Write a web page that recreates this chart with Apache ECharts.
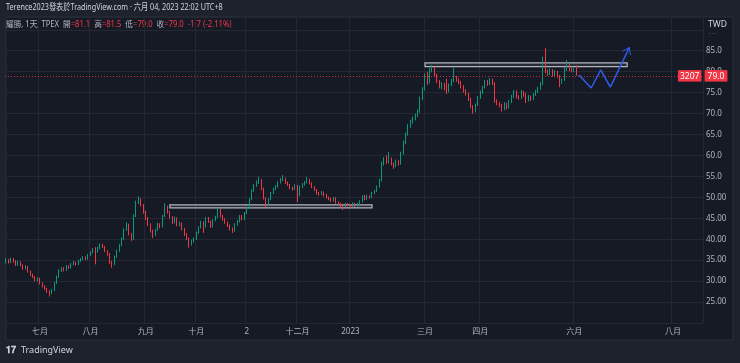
<!DOCTYPE html>
<html>
<head>
<meta charset="utf-8">
<script src="https://cdn.jsdelivr.net/npm/echarts@6/dist/echarts.min.js"></script>
<style>
html,body{margin:0;padding:0;background:#1e222d;}
#c{width:740px;height:363px;}
</style>
</head>
<body>
<div id="c"></div>
<script>
// ---- data ----
var opens = [34.6,35.0,34.6,35.2,34.8,34.0,34.5,33.8,33.0,33.4,32.2,31.5,31.0,30.2,30.6,29.5,28.8,28.2,27.5,27.2,
27.8,29.5,31.0,32.5,33.0,32.6,33.5,33.2,34.0,34.4,34.0,34.8,35.2,35.6,35.3,36.2,36.8,37.8,37.0,37.8,
38.6,38.2,37.2,36.5,34.5,34.0,35.8,37.2,38.5,40.0,42.2,43.5,41.2,40.0,45.5,48.8,49.5,48.2,46.5,45.0,
43.5,42.0,41.0,42.2,43.5,43.0,45.5,47.8,46.5,45.3,44.0,45.0,43.5,43.8,42.5,41.2,40.2,38.8,39.5,40.0,
41.5,42.8,44.0,43.0,45.0,44.2,43.0,44.5,45.2,47.0,45.5,44.8,44.0,43.2,42.5,42.0,43.5,44.2,45.5,44.8,
46.2,47.5,49.5,51.5,52.8,53.5,54.2,52.0,49.8,48.2,49.5,51.0,52.0,52.5,53.5,54.2,54.5,53.5,53.0,52.2,
52.0,52.8,50.5,52.5,53.0,53.5,54.2,53.4,52.5,51.8,51.0,50.8,51.2,50.5,50.0,49.6,49.2,49.8,48.8,48.5,
48.0,47.8,48.4,48.2,47.8,48.5,48.0,48.4,49.0,50.4,49.6,50.3,50.0,51.0,51.5,52.5,54.0,58.0,59.5,58.5,
59.2,58.0,57.5,58.6,58.0,60.5,63.0,65.0,67.0,68.0,68.8,69.5,70.5,73.5,75.8,79.5,77.5,80.2,81.0,79.2,
77.8,76.5,77.0,78.0,75.2,76.8,77.8,78.5,78.0,77.5,76.5,75.5,74.8,73.5,71.8,70.6,72.0,73.8,75.0,76.2,
77.5,77.0,78.0,77.2,73.0,72.5,72.0,71.0,72.3,71.5,72.8,74.0,75.2,74.0,73.8,75.0,74.5,73.2,74.0,73.5,
74.5,75.2,76.0,77.0,83.5,80.0,79.5,80.4,79.2,80.0,79.0,77.5,78.0,80.5,81.6,80.5,80.2,81.1];
var closes = [35.0,34.6,35.2,34.8,34.0,34.5,33.8,33.0,33.4,32.2,31.5,31.0,30.2,30.6,29.5,28.8,28.2,27.5,27.2,27.8,
29.5,31.0,32.5,33.0,32.6,33.5,33.2,34.0,34.4,34.0,34.8,35.2,35.6,35.3,36.2,36.8,37.5,37.0,37.8,38.6,
38.2,37.2,36.5,34.5,34.0,35.8,37.2,38.5,40.0,42.2,43.5,41.2,40.0,45.5,48.8,49.5,48.2,46.5,45.0,43.5,
42.0,41.0,42.2,43.5,43.0,45.5,47.8,46.5,45.3,44.0,45.0,43.5,43.8,42.5,41.2,40.2,38.8,39.5,40.0,41.5,
42.8,44.0,43.0,45.0,44.2,43.0,44.5,45.2,47.0,45.5,44.8,44.0,43.2,42.5,42.0,43.5,44.2,45.5,44.8,46.2,
47.5,49.5,51.5,52.8,53.5,54.2,52.0,49.8,48.2,49.5,51.0,52.0,52.5,53.5,54.2,54.5,53.5,53.0,52.2,52.0,
52.8,50.5,52.5,53.0,53.5,54.2,53.4,52.5,51.8,51.0,50.8,51.2,50.5,50.0,49.6,49.2,49.8,48.8,48.5,48.0,
47.8,48.4,48.2,47.8,48.5,48.0,48.4,49.0,50.2,49.6,50.3,50.0,51.0,51.5,52.5,54.0,58.0,59.0,58.5,59.2,
58.0,57.5,58.6,58.0,60.5,63.0,65.0,67.0,68.0,68.8,69.5,70.5,73.5,75.8,79.0,77.5,80.2,81.0,79.2,77.8,
76.5,77.0,76.0,75.2,76.8,77.8,78.5,78.0,77.5,76.5,75.5,74.8,73.5,71.8,70.6,72.0,73.8,75.0,76.2,77.5,
77.0,78.0,77.2,73.0,72.5,72.0,71.0,72.3,71.5,72.8,74.0,75.2,74.0,73.8,75.0,74.5,73.2,74.0,73.5,74.5,
75.2,76.0,77.0,83.0,80.0,79.5,80.4,79.2,80.0,79.0,77.5,78.0,80.5,81.6,80.5,80.2,80.7,79.0];
var lows = [34.2,34.2,34.3,34.4,33.6,33.7,33.5,32.7,32.8,32.0,31.2,30.7,29.9,29.9,29.2,28.5,27.9,27.2,26.3,26.9,
27.6,29.3,30.8,32.2,32.3,32.4,32.9,33.0,33.8,33.7,33.8,34.6,35.0,35.0,35.1,36.0,36.6,34.0,36.8,37.6,
37.9,36.9,36.1,34.1,33.2,33.8,35.6,37.0,38.3,39.8,42.0,40.9,39.6,39.8,45.3,48.4,47.8,46.1,44.6,43.1,
41.6,40.3,40.8,42.0,42.6,42.8,45.3,46.1,44.9,43.6,43.8,43.1,43.1,42.1,40.8,39.8,38.0,38.5,39.2,39.8,
41.3,42.6,41.5,42.8,43.9,42.7,42.8,44.3,45.0,45.2,44.4,43.7,42.9,42.1,41.5,41.8,43.2,44.0,44.5,44.6,
46.0,47.3,49.3,51.3,52.5,53.2,51.7,49.5,47.7,48.0,49.3,50.8,51.7,52.3,53.3,53.9,53.2,52.7,51.9,51.6,
51.8,48.9,50.3,52.2,52.8,53.3,53.1,52.2,51.5,50.7,50.4,50.5,50.2,49.7,49.3,48.9,49.0,48.5,48.2,47.6,
47.0,47.6,47.9,47.5,47.6,47.7,47.8,48.2,48.8,49.3,49.4,49.7,49.8,50.8,51.3,52.3,53.8,57.6,58.0,58.1,
57.6,56.8,57.2,57.6,57.8,60.2,62.7,64.7,66.6,67.6,68.4,69.2,70.2,73.2,75.5,76.8,77.2,79.8,78.8,77.3,
76.0,75.8,75.5,74.7,75.0,76.5,77.5,77.6,77.0,76.0,75.0,74.3,73.0,71.3,70.0,70.3,71.8,73.5,74.7,76.0,
76.6,76.8,76.8,72.6,72.0,71.5,70.5,70.8,71.0,71.2,72.5,73.7,73.6,73.3,73.5,74.0,72.5,72.9,73.0,73.2,
74.2,74.9,75.7,76.8,79.6,79.0,79.2,78.8,78.9,78.5,76.3,77.1,77.8,80.2,80.1,79.8,79.9,79.0];
var highs = [35.5,35.3,35.6,35.5,35.0,34.9,34.7,34.0,33.8,33.6,32.5,31.8,31.2,30.9,30.8,29.7,29.0,28.4,27.8,28.1,
29.8,31.3,32.8,33.4,33.3,33.8,33.8,34.3,34.8,34.6,35.1,35.5,36.0,35.9,36.5,37.1,37.9,38.1,38.2,39.0,
38.9,38.4,37.4,36.7,34.8,36.1,37.5,38.8,40.4,42.6,44.0,43.7,41.5,45.9,49.2,50.2,49.8,48.4,46.8,45.3,
43.8,42.3,42.5,43.9,43.8,45.8,48.6,48.0,46.8,45.5,45.4,45.2,44.2,44.0,42.7,41.5,40.4,39.9,40.4,41.8,
43.1,44.4,44.3,45.3,45.3,44.4,44.8,45.6,47.5,47.2,45.8,45.0,44.2,43.5,42.8,43.8,44.6,45.8,45.8,46.5,
47.8,49.8,51.9,53.2,54.0,54.9,54.4,52.3,50.0,49.8,51.3,52.3,52.9,53.8,54.6,55.3,54.7,53.8,53.2,52.5,
53.1,53.0,52.8,53.4,53.9,54.9,54.4,53.6,52.7,52.0,51.3,51.5,51.4,50.8,50.2,49.9,50.1,50.0,49.0,48.7,
48.3,48.7,48.6,48.4,48.8,48.7,48.7,49.3,50.5,50.6,50.6,50.5,51.3,51.8,52.8,54.4,58.5,59.6,60.0,60.8,
59.5,58.3,59.0,58.9,60.9,63.5,65.5,67.5,68.5,69.3,70.0,71.0,74.0,76.3,79.6,80.0,80.8,81.6,81.2,79.5,
78.0,77.5,77.3,78.3,77.2,78.3,80.9,79.0,78.4,77.8,76.8,75.8,75.0,73.8,72.0,72.4,74.2,75.5,76.6,78.0,
78.0,78.5,78.3,77.5,73.4,72.8,72.3,72.7,72.6,73.2,74.5,75.6,75.5,74.4,75.6,75.4,75.0,74.4,74.3,74.9,
75.6,76.4,77.5,83.6,85.6,80.5,80.8,80.6,80.4,80.2,79.2,78.4,81.0,82.8,81.8,80.9,81.2,81.5];

// time axis: trading-day slots (past + empty future space)
var slotCount = 290;
var monthTickIndex = [14, 35, 58, 79, 100, 121, 143, 174, 197, 236, 277];
var monthTickLabel = ['七月', '八月', '九月', '十月', '2', '十二月', '2023', '三月', '四月', '六月', '八月'];

// drawings
var supportBox = {from: 68, to: 152, low: 47.5, high: 48.2};
var resistBox = {from: 174, to: 258, low: 81.2, high: 82.1};
var zigX = [238, 243, 247, 251, 259];
var zigY = [79.2, 76.1, 80.4, 76.3, 85.9];
var lastPrice = 79.0;
var symbolCode = '3207';

// ---- chart ----
var slots = [];
for (var i = 0; i < slotCount; i++) slots.push(String(i));
var candleData = opens.map(function (o, k) { return [o, closes[k], lows[k], highs[k]]; });
var BLUE = '#2f5bea';
var zigData = zigX.map(function (x, k) {
  var p = {value: [x, zigY[k]], symbol: 'none'};
  if (k === zigX.length - 1) {
    p.symbol = 'path://M0,10 L6,0 L12,10 L10.4,10 L6,2.6 L1.6,10 Z';
    p.symbolSize = [10, 7];
    p.symbolRotate = -26;
    p.symbolOffset = [-1.5, 3.1];
    p.itemStyle = {color: BLUE};
  }
  return p;
});
function isMonthTick(idx) { return monthTickIndex.indexOf(idx) >= 0; }

var FONT = '"Noto Sans", "Noto Sans CJK TC", sans-serif';
var UP = '#089981', DOWN = '#f23645';

var chart = echarts.init(document.getElementById('c'), null, {renderer: 'canvas'});
chart.setOption({
  backgroundColor: '#1e222d',
  animation: false,
  textStyle: {fontFamily: FONT},
  graphic: [
    {type: 'rect', z: -10, shape: {x: 6, y: 17, width: 727, height: 323}, style: {fill: '#161a25', stroke: '#2a2e39', lineWidth: 1}},
    {type: 'text', x: 6, y: 3, scaleX: 0.8, style: {text: 'Terence2023發表於TradingView.com · 六月 04, 2023 22:02 UTC+8', fill: '#d1d4dc', font: '9px ' + FONT}},
    {type: 'text', x: 6, y: 20, scaleX: 0.9, style: {
      text: '{g|耀勝, 1天, TPEX  開}{r|=81.1}{g|  高}{r|=81.5}{g|  低}{r|=79.0}{g|  收}{r|=79.0  -1.7 (-2.11%)}',
      rich: {g: {fill: '#b2b5be', font: '8.5px ' + FONT}, r: {fill: '#f23645', font: '8.5px ' + FONT}}
    }},
    {type: 'text', x: 708, y: 20, style: {text: 'TWD', fill: '#d1d4dc', font: '8.5px ' + FONT}},
    {type: 'text', x: 709, y: 31, style: {text: '- - -', fill: '#6a6d78', font: '5px ' + FONT}},
    {type: 'text', x: 6, y: 346, style: {text: '𝟏𝟕', fill: '#d1d4dc', font: 'bold 9px ' + FONT}},
    {type: 'text', x: 21, y: 346, style: {text: 'TradingView', fill: '#d1d4dc', font: '9px ' + FONT}}
  ],
  grid: {left: 5, right: 37, top: 17, bottom: 40},
  xAxis: {
    type: 'category',
    data: slots,
    boundaryGap: true,
    axisLine: {show: false},
    axisTick: {show: false},
    axisLabel: {
      interval: function (idx) { return isMonthTick(idx); },
      formatter: function (v) { var k = monthTickIndex.indexOf(Number(v)); return k >= 0 ? monthTickLabel[k] : ''; },
      color: '#b2b5be', fontSize: 8, margin: 5, fontFamily: FONT
    },
    splitLine: {show: true, interval: function (idx) { return isMonthTick(idx); }, lineStyle: {color: '#242833', width: 1}}
  },
  yAxis: {
    type: 'value',
    position: 'right',
    min: 20, max: 93.05, interval: 5,
    axisLine: {show: false},
    axisTick: {show: false},
    axisLabel: {
      color: '#b2b5be', fontSize: 8, margin: 3, fontFamily: FONT,
      formatter: function (v) {
        if (v <= 20 || v >= 90) return '';
        return v > 50 ? v.toFixed(1) : v.toFixed(2);
      }
    },
    splitLine: {show: true, lineStyle: {color: '#242833', width: 1}}
  },
  series: [
    {
      type: 'candlestick',
      data: candleData,
      barWidth: 1,
      itemStyle: {color: UP, color0: DOWN, borderColor: UP, borderColor0: DOWN, borderWidth: 1},
      markArea: {
        silent: true,
        itemStyle: {color: 'rgba(120,123,134,0.18)', borderColor: '#b2b5be', borderWidth: 1.2},
        data: [
          [{xAxis: supportBox.from, yAxis: supportBox.high}, {xAxis: supportBox.to, yAxis: supportBox.low}],
          [{xAxis: resistBox.from, yAxis: resistBox.high}, {xAxis: resistBox.to, yAxis: resistBox.low}]
        ]
      },
      markLine: {
        silent: true,
        symbol: ['none', 'none'],
        lineStyle: {color: 'rgba(242,54,69,0.8)', type: [1, 2], width: 1},
        label: {
          show: true, position: 'end', distance: -25,
          formatter: '{s|' + symbolCode + '} {p|' + lastPrice.toFixed(1) + '}',
          rich: {
            s: {backgroundColor: DOWN, color: '#fff', fontSize: 8.5, padding: [2, 2, 1, 2], fontFamily: FONT},
            p: {backgroundColor: DOWN, color: '#fff', fontSize: 8.5, padding: [2, 3, 1, 3], fontFamily: FONT}
          }
        },
        data: [{yAxis: lastPrice}]
      }
    },
    {
      type: 'line',
      data: zigData,
      symbol: 'emptyCircle',
      showSymbol: true,
      showAllSymbol: true,
      lineStyle: {color: BLUE, width: 1.5},
      itemStyle: {color: BLUE},
      z: 5
    }
  ]
});
</script>
</body>
</html>
